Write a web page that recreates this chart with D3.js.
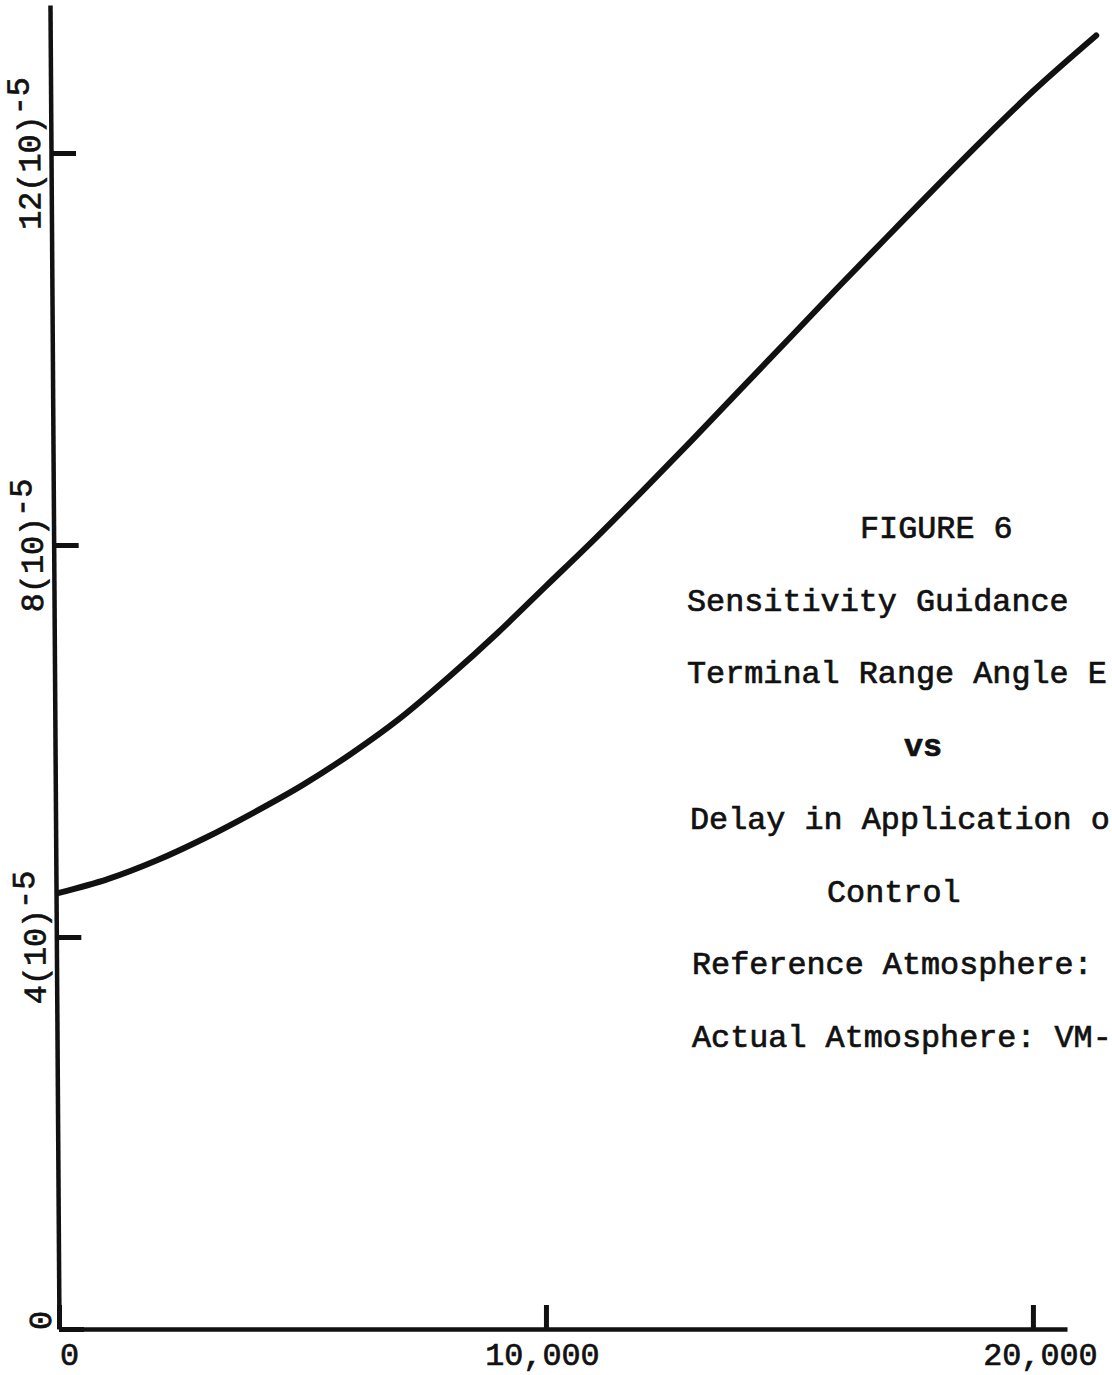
<!DOCTYPE html>
<html>
<head>
<meta charset="utf-8">
<script src="https://cdn.jsdelivr.net/npm/d3@7"></script>
<style>
  html, body { margin: 0; padding: 0; background: #fff; }
  svg { display: block; }
  text { font-family: "Liberation Mono", "Courier New", monospace; fill: #111; }
</style>
</head>
<body>
<svg id="chart" width="1112" height="1375"></svg>
<script>
// Delay in application of control (x) and terminal range-angle error, in units of 10^-5 (y)
const delay = [0, 1000, 2000, 3000, 4000, 5000, 6000, 7000, 8000, 9000, 10000,
               11000, 12000, 13000, 14000, 15000, 16000, 17000, 18000, 19000, 20000, 21300];
const rangeAngleError = [4.45, 4.59, 4.78, 5.01, 5.27, 5.55, 5.87, 6.23, 6.65, 7.10, 7.58,
                         8.06, 8.56, 9.07, 9.59, 10.11, 10.63, 11.14, 11.65, 12.15, 12.63, 13.20];

const xTicks = [0, 10000, 20000];
const yTicks = [0, 4, 8, 12];

const captionLines = [
  "FIGURE 6",
  "Sensitivity Guidance",
  "Terminal Range Angle E",
  "vs",
  "Delay in Application o",
  "Control",
  "Reference Atmosphere:",
  "Actual Atmosphere: VM-"
];

const svg = d3.select("#chart");
const ink = "#111";

const x = d3.scaleLinear().domain([0, 20700]).range([59, 1067]);
const y = d3.scaleLinear().domain([0, 13.51]).range([1329, 5]);

// Typewriter-weight text: a thin outline thickens the glyphs a little
function typed(sel) {
  sel.attr("font-size", 31.8)
     .attr("fill", ink)
     .attr("stroke", ink)
     .attr("stroke-width", 0.7);
}

// Horizontal axis: ticks point up into the plot
const xAxis = d3.axisBottom(x)
  .tickValues(xTicks)
  .tickFormat(d3.format(","))
  .tickSizeInner(-24)
  .tickSizeOuter(0)
  .tickPadding(13);

const gx = svg.append("g")
  .attr("transform", `translate(0,${y(0)})`)
  .call(xAxis);
gx.select(".domain").attr("stroke", ink).attr("stroke-width", 4.5);
gx.selectAll(".tick line").attr("stroke", ink).attr("stroke-width", 5);
gx.selectAll(".tick text")
  .call(typed)
  .attr("font-family", "Liberation Mono")
  .attr("dy", "0.72em")
  .attr("dx", d => d === 0 ? 10 : (d === 20000 ? 7 : -4));

// Vertical axis, drawn with a very slight lean as on the hand-ruled original
const gy = svg.append("g")
  .attr("transform", `translate(${x(0)},${y(0)}) skewX(0.39) translate(0,${-y(0)})`);

const yAxis = d3.axisLeft(y)
  .tickValues(yTicks)
  .tickFormat("")
  .tickSizeInner(-25)
  .tickSizeOuter(0);
gy.call(yAxis);
gy.select(".domain").attr("stroke", ink).attr("stroke-width", 4.5);
gy.selectAll(".tick line").attr("stroke", ink).attr("stroke-width", 5);
gy.selectAll(".tick text").remove();

// Rotated tick labels such as 12(10)^-5
gy.selectAll(".tick").each(function(v) {
  const t = d3.select(this).append("text")
    .attr("transform", v === 0 ? "translate(-8,-9) rotate(-90)" : "translate(-11,0) rotate(-90)")
    .attr("text-anchor", "middle")
    .call(typed);
  if (v === 0) {
    t.text("0");
  } else {
    t.append("tspan").text(`${v}(10)`);
    t.append("tspan").attr("dy", -11).text("-5");
  }
});

// The curve
const line = d3.line()
  .x((d, i) => x(delay[i]))
  .y(d => y(d))
  .curve(d3.curveMonotoneX);

svg.append("path")
  .datum(rangeAngleError)
  .attr("d", line)
  .attr("fill", "none")
  .attr("stroke", ink)
  .attr("stroke-width", 6)
  .attr("stroke-linecap", "round")
  .attr("stroke-linejoin", "round");

// Typed caption block on the right
const captionX = [860, 687, 687, 904, 690, 827, 692, 692];
const captionBase = 538, captionStep = 72.7;
svg.append("g")
  .selectAll("text")
  .data(captionLines)
  .join("text")
  .attr("x", (d, i) => captionX[i])
  .attr("y", (d, i) => captionBase + i * captionStep)
  .call(typed)
  .attr("font-weight", (d, i) => i === 3 ? "bold" : "normal")
  .attr("xml:space", "preserve")
  .text(d => d);
</script>
</body>
</html>
